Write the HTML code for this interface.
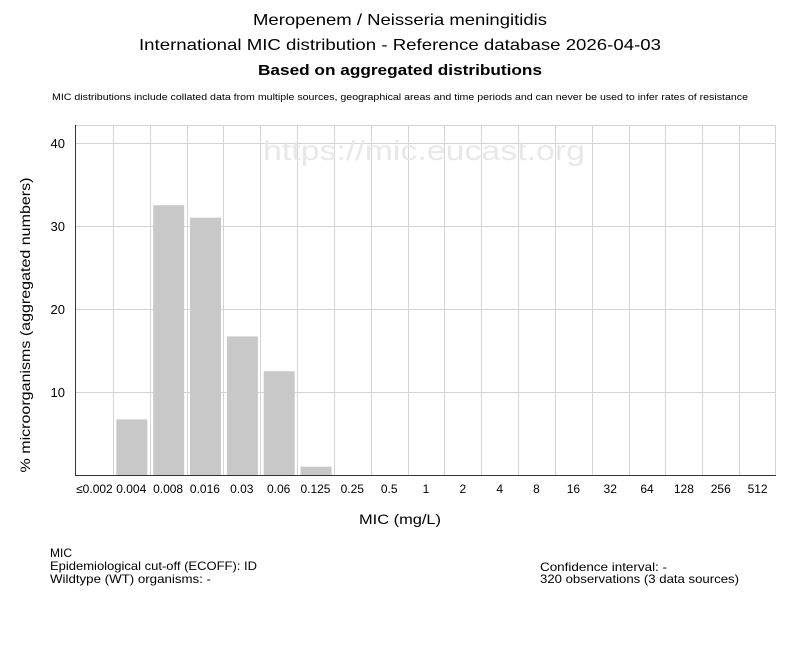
<!DOCTYPE html>
<html><head><meta charset="utf-8"><style>
body{margin:0;background:#fff;width:800px;height:650px;overflow:hidden;font-family:"Liberation Sans",sans-serif;}
</style></head><body>
<svg width="800" height="650" xmlns="http://www.w3.org/2000/svg" font-family="Liberation Sans, sans-serif">
<text x="400" y="25" font-size="16" text-anchor="middle" fill="#000" textLength="294" lengthAdjust="spacingAndGlyphs">Meropenem / Neisseria meningitidis</text>
<text x="400" y="50" font-size="16" text-anchor="middle" fill="#000" textLength="522" lengthAdjust="spacingAndGlyphs">International MIC distribution - Reference database 2026-04-03</text>
<text x="400" y="75" font-size="15" font-weight="bold" text-anchor="middle" fill="#000" textLength="284" lengthAdjust="spacingAndGlyphs">Based on aggregated distributions</text>
<text x="400" y="100" font-size="9" text-anchor="middle" fill="#000" textLength="696" lengthAdjust="spacingAndGlyphs">MIC distributions include collated data from multiple sources, geographical areas and time periods and can never be used to infer rates of resistance</text>
<g stroke="#d4d4d4" stroke-width="1">
<line x1="76" y1="125.5" x2="776" y2="125.5"/>
<line x1="76" y1="143.5" x2="776" y2="143.5"/>
<line x1="76" y1="226.5" x2="776" y2="226.5"/>
<line x1="76" y1="309.5" x2="776" y2="309.5"/>
<line x1="76" y1="392.5" x2="776" y2="392.5"/>
<line x1="775.5" y1="125" x2="775.5" y2="475"/>
<g id="vg"></g>
</g>
<text x="424" y="160" font-size="28" text-anchor="middle" fill="#e8e8e8" textLength="322" lengthAdjust="spacingAndGlyphs">https://mic.eucast.org</text>
<g fill="#c8c8c8" id="bars"></g>
<line x1="75.5" y1="125" x2="75.5" y2="476" stroke="#333"/>
<line x1="75" y1="475.5" x2="776" y2="475.5" stroke="#333"/>
<g font-size="13" text-anchor="end" fill="#000">
<text x="65" y="148">40</text><text x="65" y="231">30</text><text x="65" y="314">20</text><text x="65" y="397">10</text>
</g>
<g font-size="12" text-anchor="middle" fill="#000" id="xl"></g>
<text transform="translate(30,325) rotate(-90)" font-size="14" text-anchor="middle" textLength="295" lengthAdjust="spacingAndGlyphs">% microorganisms (aggregated numbers)</text>
<text x="400" y="524" font-size="14" text-anchor="middle" textLength="82" lengthAdjust="spacingAndGlyphs">MIC (mg/L)</text>
<g font-size="12" fill="#000">
<text x="50" y="557">MIC</text>
<text x="50" y="570" textLength="207" lengthAdjust="spacingAndGlyphs">Epidemiological cut-off (ECOFF): ID</text>
<text x="50" y="583" textLength="161" lengthAdjust="spacingAndGlyphs">Wildtype (WT) organisms:  -</text>
<text x="540" y="571" textLength="127" lengthAdjust="spacingAndGlyphs">Confidence interval: -</text>
<text x="540" y="583" textLength="199" lengthAdjust="spacingAndGlyphs">320 observations (3 data sources)</text>
</g>
</svg>
<script>
var ns="http://www.w3.org/2000/svg",w=700/19;
var labs=["≤0.002","0.004","0.008","0.016","0.03","0.06","0.125","0.25","0.5","1","2","4","8","16","32","64","128","256","512"];
var vals=[0,6.7,32.5,31,16.7,12.5,1];
var vg=document.getElementById("vg"),b=document.getElementById("bars"),xl=document.getElementById("xl");
for(var i=0;i<19;i++){
 var x0=76+w*i;
 if(i>0){var l=document.createElementNS(ns,"line");var xx=Math.round(x0)+0.5;l.setAttribute("x1",xx);l.setAttribute("x2",xx);l.setAttribute("y1",125);l.setAttribute("y2",475);vg.appendChild(l);}
 var t=document.createElementNS(ns,"text");t.setAttribute("x",x0+w/2);t.setAttribute("y",493);t.textContent=labs[i];xl.appendChild(t);
 if(vals[i]){var r=document.createElementNS(ns,"rect");var h=vals[i]*8.3;r.setAttribute("x",x0+3.5);r.setAttribute("width",31);r.setAttribute("y",475-h);r.setAttribute("height",h);b.appendChild(r);}
}
</script>
</body></html>
